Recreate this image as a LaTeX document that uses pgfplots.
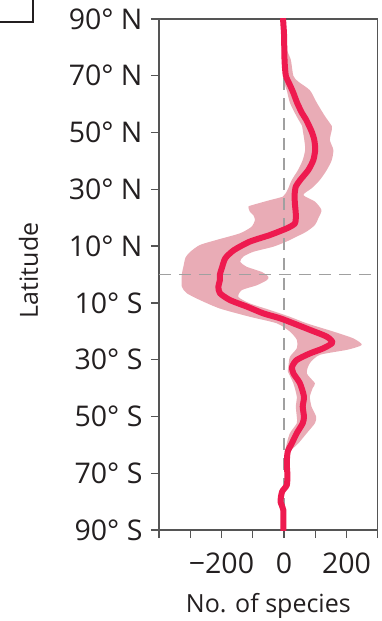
\documentclass[border=0pt]{standalone}
\usepackage{pgfplots}
\pgfplotsset{compat=1.18}
\usepackage{fontspec}
\setmainfont{Open Sans}
\definecolor{linec}{RGB}{238,26,79}
\definecolor{bandc}{RGB}{233,172,182}
\definecolor{axc}{RGB}{85,85,85}
\definecolor{txtc}{RGB}{35,31,32}
\definecolor{dashc}{RGB}{160,160,160}
\begin{document}
\begin{tikzpicture}
\begin{axis}[
  name=ax, at={(0,0)}, anchor=south west,
  scale only axis, width=218.7pt, height=511pt,
  xmin=-400, xmax=300, ymin=-90, ymax=90,
  axis line style={axc, line width=1.4pt},
  tick align=outside, xtick pos=bottom, ytick pos=left,
  major tick length=8pt,
  tick style={axc, line width=1.4pt},
  xtick={-400,-300,-200,-100,0,100,200,300},
  xticklabels={{},{},−200,{},0,{},200,{}},
  ytick={-90,-70,-50,-30,-10,10,30,50,70,90},
  yticklabels={90° S,70° S,50° S,30° S,10° S,10° N,30° N,50° N,70° N,90° N},
  ticklabel style={font=\fontsize{28.5}{31}\selectfont, text=txtc},
  yticklabel style={xshift=-5pt},
  xticklabel style={yshift=-11pt},
  xlabel={No. of species},
  ylabel={Latitude},
  label style={font=\fontsize{25}{28}\selectfont, text=txtc},
  xlabel style={at={(axis description cs:0.5,-0.1624)}, anchor=base},
  ylabel style={at={(axis description cs:-0.5533,0.508)}, anchor=base},
  clip=true,
]
% uncertainty band: lower edge top->bottom, then upper edge bottom->top
\addplot[fill=bandc, draw=none, smooth, tension=0.4] coordinates {
(-10,90) (-8,80) (-4,75) (-1,70) (5,66) (9,64.9) (19,60.5) (40,55.8) (58,52.3) (60,50.9)
(65,47.4) (68,44) (60,40.3) (45,36.8) (25,33.3) (14,30.4) (5,28.5) (-4,27.4) (-45,26.2)
(-100,24.5) (-114,23.9) (-109,22.1) (-98,20.9) (-93,19.2) (-104,16.8) (-141,14.5)
(-215,12.2) (-269,10.4) (-300,8) (-315,6) (-322,2.7) (-327,0) (-327,-4.3) (-311,-6.6)
(-269,-9) (-205,-12) (-109,-14.9) (-23,-17.2) (19,-20.1) (41,-23) (41,-26) (19,-29)
(14,-32.5) (12,-34) (30,-38.3) (41,-43) (38,-46.5) (41,-50.1) (41,-52.4) (19,-55.9)
(9,-59.5) (4,-62.4) (2,-66) (4,-70) (2,-74) (-13,-76.5) (-18,-80) (-9,-83) (-9,-90)
(5,-90) (5,-83) (-4,-80) (1,-76.5) (16,-74.2) (18,-70.6) (16,-66.5) (20,-62.4) (46,-59.5)
(73,-55.9) (99,-52.4) (103,-50.1) (88,-46.5) (83,-43) (92,-40) (99,-38.3) (73,-34.8)
(83,-31.2) (115,-28.3) (203,-26.5) (249,-24.8) (222,-22.5) (158,-20.1) (73,-17.2)
(19,-14.9) (-45,-12.5) (-109,-10.2) (-146,-7.9) (-135,-5.5) (-87,-3.8) (-55,-2)
(-50,-0.8) (-71,0.9) (-119,2.7) (-140,4.5) (-130,6.3) (-98,8) (-34,9.8) (8,11.6)
(40,13.3) (72,15.1) (99,17.4) (110,19.8) (120,22.7) (99,25.7) (62,28) (89,30.4)
(115,33.3) (137,36.8) (153,40.3) (158,43.9) (147,47.4) (153,50.9) (153,52.3) (131,55.8)
(105,60.5) (83,64.9) (45,68) (30,70) (22,75.6) (8,80) (5,90)
};
% reference lines
\addplot[dashc, line width=1.3pt, dash pattern=on 12pt off 8pt] coordinates {(0,-90) (0,90)};
\addplot[dashc, line width=1.3pt, dash pattern=on 12pt off 8pt] coordinates {(-400,0) (300,0)};
% mean
\addplot[linec, line width=6pt, line join=round, line cap=round, smooth, tension=0.4] coordinates {
(-3,90) (0,85) (1,80) (2,75) (6,70) (18,67) (30,64) (42,60.5) (57,57) (70,54.7) (82,52)
(90,50) (97,47.4) (100,44) (94,40.3) (78,36.8) (52,33.3) (38,31) (34,28) (35,25) (38,21)
(35,18) (10,16.3) (-45,13.9) (-109,11.6) (-160,8.6) (-188,5.7) (-199,2.2) (-205,0)
(-205,-2) (-210,-4.3) (-205,-6.6) (-173,-9) (-119,-11.3) (-66,-13.7) (-13,-15.4)
(30,-17.2) (83,-19.5) (137,-21.9) (155,-24) (126,-26) (83,-27.8) (41,-30.1) (26,-32.5)
(30,-34.8) (51,-38.3) (64,-43) (60,-46.5) (64,-50.1) (60,-52.4) (41,-55.9) (25,-59.5)
(12,-62.4) (9,-66.5) (11,-70.6) (9,-74.2) (-6,-76.5) (-11,-80) (-2,-83) (-2,-90)
};
\end{axis}
\pgfresetboundingbox
\useasboundingbox (-159pt,-91pt) rectangle (223pt,530pt);
\draw[line width=1.4pt, txtc] (-175pt,508pt) rectangle (-126pt,550pt);
\end{tikzpicture}
\end{document}
